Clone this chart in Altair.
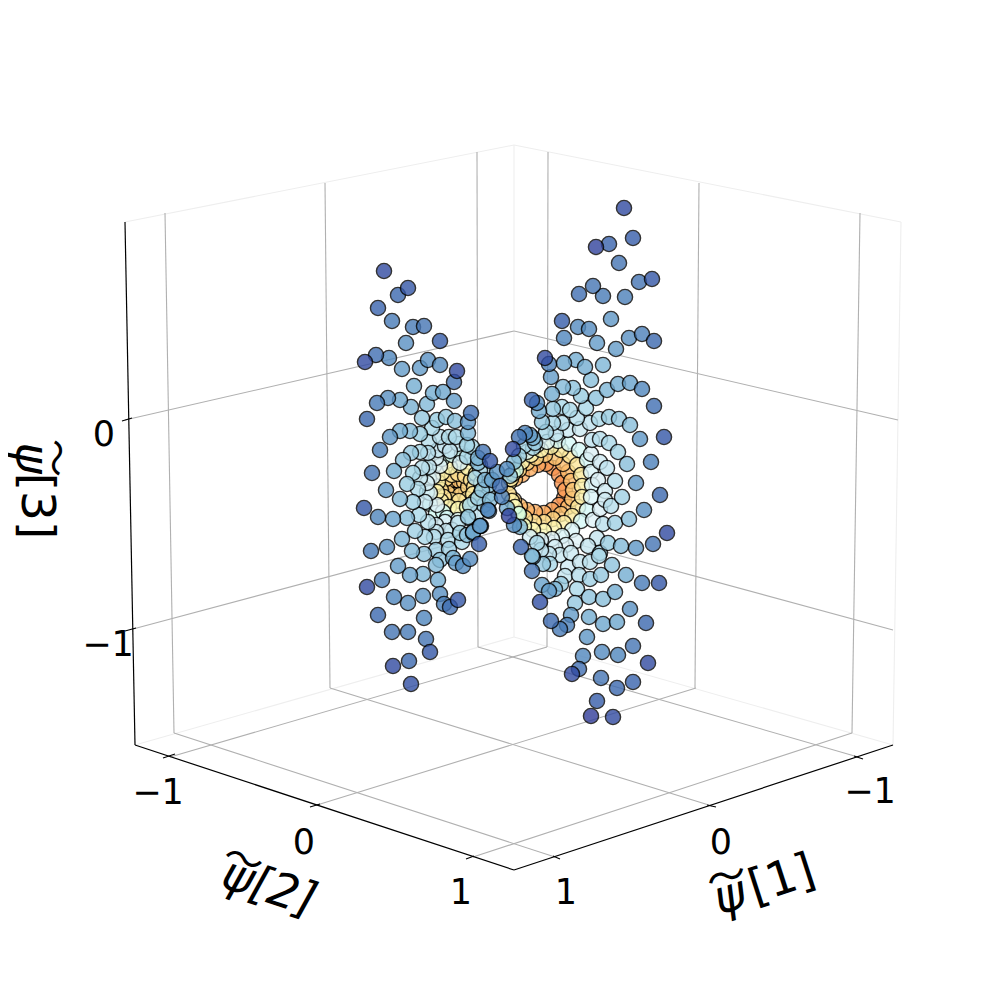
import altair as alt
import pandas as pd

# Screen-plane coordinates of the projected points and their colour value
# rows: x, y, c   (c: 0 dark blue ... 8 orange-red)
left_upper = [
[384,271,.3],[408,288,.5],[398,295,.8],[378,308,.7],[392,321,1.1],[413,327,1.1],[424,326,1],[406,343,1.5],
[440,341,.6],[365,362,.3],[376,355,.9],[389,358,1.3],[428,360,1.5],[420,368,1.7],[402,369,1.7],[440,365,1.4],
[457,371,.3],[454,382,1],[414,386,2],[433,393,2],[443,392,1.9],[454,401,1.7],[388,398,1.5],[377,403,1.1],
[400,400,1.9],[411,407,2.1],[427,404,2.3],[422,418,2.6],[367,419,.8],[437,420,2.7],[446,417,2.6],[455,421,2.4],
[471,413,.9],[468,422,1.6],[400,431,2],[390,437,1.6],[410,431,2.3],[420,434,2.7],[432,428,3],[449,437,3.1],
[468,433,2.2],[456,437,3],[380,450,1.2],[429,442,3.2],[440,437,3.2],[467,445,2.9],[403,460,2.4],[411,453,2.6],
[420,452,3],[428,453,3.2],[372,473,1],[394,471,2],[467,457,3],[450,451,3.4],[438,450,3.5],[483,452,1],
[490,461,.5],[478,458,2.2],[478,463,2.4],[460,463,3.8],
]
left_lower = [
[386,490,1.7],[413,473,2.9],[407,484,2.7],[422,468,3.2],[429,467,3.4],[400,499,2.3],[418,489,3.1],[413,502,2.8],
[364,508,.5],[378,517,1.3],[393,519,1.8],[407,518,2.4],[419,515,3],[428,522,3.3],[425,502,3.6],[430,493,3.8],
[427,483,3.8],[433,477,4],[415,531,2.8],[425,537,3],[434,537,3.2],[402,539,2.2],[387,547,1.5],[371,551,1.1],
[412,551,2.3],[424,554,2.5],[436,550,2.8],[448,540,3.2],[446,531,3.5],[449,549,2.8],[398,566,1.7],[410,575,1.8],
[423,574,2.2],[436,565,2.3],[453,558,2.2],[456,563,1.7],[463,566,1.4],[470,559,1.4],[479,544,.6],[481,526,1.7],
[473,533,2],[467,535,2.5],[460,533,2.9],[458,523,3.4],[438,580,2],[382,580,1.2],[367,587,.3],[394,597,1.3],
[408,603,1.5],[423,596,1.6],[440,594,1.5],[444,604,1.2],[450,607,.9],[458,600,.5],[378,615,.8],[424,618,1.3],
[392,632,1],[408,632,1.1],[426,639,1],[430,652,.5],[409,661,.8],[393,666,.3],[411,684,.4],
[440,466,4],[437,505,4],[436,525,3.8],[445,522,3.9],[452,530,3.7],[443,512,4.3],[489,511,1.6],[480,526,1.9],
[436,458,3.9],[445,446,3.5],[458,444,3.5],[472,447,3],[420,478,3.6],[436,532,3.5],[462,542,3],[440,560,2.6],
]
left_core_a = [
[458,488,7.4],[452,487,7.2],[455,484,7.2],[461,485,7],[464,488,6.8],[461,491,6.9],[455,491,7],[449,488,7],[447,484,6.6],
[453,481,6.8],[459,481,6.6],[464,482,6.4],[468,487,6.2],[466,492,6.3],[460,495,6.3],[454,495,6.4],[448,493,6.4],
[446,479,6],[452,475,6],[458,474,6],[465,476,6],[471,480,5.9],[474,487,5.8],[473,494,5.7],[467,499,5.8],[459,501,5.8],[451,500,5.9],[444,497,5.9],[441,490,6],
]
left_core_b = [
[438,482,5.4],[442,473,5.4],[450,467,5.3],[459,465,5.4],[468,468,5.3],[476,474,5.2],[481,483,4.9],[481,493,4.7],
[475,501,4.7],[467,507,4.9],[458,509,5.2],[449,507,5.3],[441,501,5.4],[437,492,5.4],
[429,478,4.5],[434,466,4.5],[442,459,4.4],[452,455,4.3],[462,454,4.3],[472,458,4],[480,465,3.6],[486,474,3.3],
[489,485,2.8],[488,495,3],[484,505,3],[477,513,3.4],[468,518,3.8],[458,520,4.1],[447,518,4.2],[436,513,4.3],[430,504,4.4],[427,492,4.3],
]
right_upper = [
[624,208,.3],[633,238,.6],[596,247,.2],[609,244,.7],[619,263,1],[639,282,1],[652,279,.5],[593,286,1],
[579,294,.9],[603,296,1.1],[625,297,1.2],[611,319,1.6],[562,321,.6],[578,327,1.4],[589,329,1.4],[564,338,1.3],
[597,343,1.7],[642,334,1.2],[629,338,1.5],[654,341,.8],[616,349,1.7],[545,358,.3],[549,364,1.2],[564,363,1.9],
[576,360,2],[585,367,2],[603,365,2.2],[551,377,1.7],[591,380,2.4],[563,387,2.3],[573,388,2.5],[618,384,2],
[630,383,1.8],[642,389,1.3],[607,390,2.2],[552,394,2],[581,396,2.7],[596,398,2.5],[532,400,.7],[537,403,1.4],
[539,411,2],[654,406,.9],[553,409,2.6],[562,407,3],[570,410,3],[586,408,3],[577,418,3.2],[542,422,2.6],
[553,423,3],[562,423,3.2],[590,423,3.4],[599,419,3],[609,417,2.7],[619,419,2.6],[630,425,2.4],[640,439,1.6],
[664,437,.5],[546,432,3],[556,434,3.4],[568,430,3.6],[580,429,3.6],
]
right_mid = [
[618,452,2.9],[609,443,3],[600,439,3.2],[592,440,3.4],[627,464,2.4],[651,462,1.2],[636,483,1.6],[615,481,3.2],
[607,468,3.4],[600,462,3.7],[591,454,3.9],[605,491,3.7],[598,480,3.9],[660,495,.8],[622,497,2.8],[611,506,3.2],
[600,509,3.9],[605,500,3.7],[644,510,1.5],[629,519,2.4],[615,523,2.8],[603,524,3.3],[667,533,.3],[593,520,4],
[653,544,1],[636,548,1.6],[621,546,2.3],[608,543,2.7],[597,538,3.5],[588,546,3.5],[600,553,3],
[519,437,1],[525,433,1.3],[530,435,1.7],[533,438,2.2],[535,443,2.7],[533,448,3],[513,449,.3],[507,469,1.4],
[500,486,.9],[502,497,1.2],[509,516,.2],[514,525,1.4],[507,508,2],[520,527,2.2],[521,547,.7],[532,556,2.3],[537,543,3],
[524,446,3],[519,456,2.8],[514,462,2.4],[510,476,2.6],[555,547,3.8],[566,545,3.9],[576,541,4],[560,555,3.6],[549,554,3.4],[571,553,3.6],[541,550,3.4],
]
right_lower = [
[599,556,3],[612,565,2.5],[626,575,2],[642,583,1.1],[659,583,.5],[601,575,2.6],[590,579,2.8],[579,575,3.2],
[590,562,3.3],[580,562,3.5],[568,567,3.7],[565,576,3.5],[577,589,3],[615,592,2],[589,597,2.5],[603,599,2.4],
[575,603,2.6],[630,609,1.5],[561,584,2.7],[555,589,2.2],[549,591,1.7],[542,585,1.8],[532,571,1],[550,564,3],
[543,564,2.6],[533,557,2.4],[540,602,.4],[571,615,1.7],[589,617,2],[567,625,1.2],[560,629,1.1],[551,621,.8],
[603,624,1.9],[617,622,1.9],[646,623,.8],[587,637,1.6],[633,646,1],[602,652,1.4],[618,655,1.3],[583,656,1.3],
[648,663,.3],[579,669,.9],[572,674,.3],[601,678,1],[633,682,.7],[617,688,.8],[597,701,.6],[591,716,.1],[613,717,.3],
]
right_core = [
[509,483,6],[511,479,5.5],[513,474,5],[516,470,4.5],[509,494,6],[512,501,5.5],[515,507,5],[519,514,4.5],
[515,479,6.8],[522,475,7],[530,469,7],[538,465,7.2],[546,464,7.3],[553,468,7.4],[559,475,7.4],[562,483,7.4],[565,490,7.3],
[564,498,7.4],[559,505,7.4],[552,510,7.2],[544,513,7],[535,512,7],[527,510,6.9],[520,506,6.8],[514,500,6.4],
[519,470,6],[527,463,6.2],[536,458,6.2],[545,455,6.4],[555,458,6.6],[563,464,6.7],[568,472,6.8],[571,481,6.7],[573,490,6.5],
[572,499,6.6],[568,507,6.7],[561,514,6.6],[553,519,6.3],[544,522,6],[534,522,6],[525,518,5.9],[518,513,5.6],
[522,462,5.3],[531,455,5.3],[541,450,5.3],[551,447,5.5],[561,450,5.7],[570,456,5.8],[577,465,5.8],[581,475,5.7],[582,486,5.5],
[582,497,5.5],[578,507,5.7],[572,516,5.7],[564,523,5.5],[554,528,5.3],[544,531,5.1],[533,530,5.1],[524,526,4.9],
[527,452,4.1],[537,445,4.1],[547,442,4.1],[558,441,4.2],[569,444,4.2],[579,450,4.2],[587,460,4.2],[591,472,4.1],[592,485,4.1],
[591,497,4.1],[587,510,4.2],[581,521,4.2],[572,530,4.1],[562,536,4.1],[552,539,4],[541,540,3.9],[530,537,3.8],
]
centre = [
[492,480,1.8],[485,480,2.3],[490,500,2.4],[488,510,1.3],[480,526,1.7],[473,532,1.9],[468,517,2.6],[470,505,3],[475,478,3],[480,470,3.2],
[482,490,2.6],[478,498,2.8],[497,472,1.6],
]

# axis geometry of the projected box: x, y, x2, y2
pane_edges = [[125,222,514,145],[514,145,901,222],[901,222,893,745],[514,145,514,637],[135,745,514,637],[514,637,893,745]]
grid_lines = [
[125,420,514,331],[514,331,898,420],[133,629,514,527],[514,527,893,630],
[165,213,174,733],[325,183,330,688],[477,152,478,647],[860,213,852,733],[699,183,695,688],[548,152,547,647],
[170,757,547,647],[317,805,696,688],[473,857,852,733],[858,757,478,647],[712,806,330,688],[555,857,174,733],
]
axis_lines = [[125,222,135,745],[135,745,514,870],[514,870,893,745]]
tick_marks = [[122,421,132,418],[125,631,136,628],[163,758,175,754],[310,807,320,804],[466,859,474,856],
              [553,856,560,859],[707,805,716,807],[854,756,863,759]]
tick_labels = [["\u22121",158,793],["0",304,843],["1",461,893],["1",566,893],["0",721,843],["\u22121",870,792],["0",104,435],["\u22121",108,645]]
# text, x, y, angle, font style, font, size
label_parts = [
 ["\u03c8",238,878,18,"italic","DejaVu Sans",47],["[2]",283,893,18,"italic","DejaVu Sans",47],["\u301c",243,862,18,"normal","Noto Sans CJK JP",40],
 ["\u03c8",730,897,342,"italic","DejaVu Sans",47],["[1]",782,880,342,"normal","DejaVu Sans",47],["\u301c",727,879,342,"normal","Noto Sans CJK JP",40],
 ["\u03c8",31,458,90,"italic","DejaVu Sans",47],["[3]",36,506,90,"normal","DejaVu Sans",47],["\u301c",54,458,90,"normal","Noto Sans CJK JP",38],
]

colormap = ["#313695","#4575b4","#74add1","#abd9e9","#e0f3f8","#ffffbf","#fee090","#fdae61","#f46d43"]

xs = alt.Scale(domain=[8,992])
ys = alt.Scale(domain=[992,8])

def seg(rows, color, w):
    df = pd.DataFrame(rows, columns=["x","y","x2","y2"])
    return alt.Chart(df).mark_rule(color=color, strokeWidth=w).encode(
        x=alt.X("x:Q", scale=xs, axis=None), y=alt.Y("y:Q", scale=ys, axis=None), x2="x2:Q", y2="y2:Q")

rows = left_core_a+left_core_b+left_upper+left_lower+right_upper+right_mid+right_lower+right_core+centre
pts = pd.DataFrame(rows, columns=["x","y","c"]).sort_values("c", ascending=False, kind="stable")
points = alt.Chart(pts).mark_point(filled=True, shape="circle", size=230, opacity=0.8, stroke="black", strokeWidth=1.4).encode(
    x=alt.X("x:Q", scale=xs, axis=None), y=alt.Y("y:Q", scale=ys, axis=None),
    fill=alt.Fill("c:Q", scale=alt.Scale(domain=list(range(9)), range=colormap), legend=None))

tl = pd.DataFrame(tick_labels, columns=["t","x","y"])
tick_text = alt.Chart(tl).mark_text(font="DejaVu Sans", fontSize=35, color="black", baseline="middle", align="center").encode(
    x=alt.X("x:Q", scale=xs, axis=None), y=alt.Y("y:Q", scale=ys, axis=None), text="t:N")

label_layers = []
for t, x, y, a, st, fn, fs in label_parts:
    d = pd.DataFrame({"t":[t],"x":[x],"y":[y]})
    label_layers.append(alt.Chart(d).mark_text(font=fn, fontSize=fs, fontStyle=st, color="black", baseline="middle", align="center", angle=a).encode(
        x=alt.X("x:Q", scale=xs, axis=None), y=alt.Y("y:Q", scale=ys, axis=None), text="t:N"))

chart = alt.layer(seg(pane_edges,"#eeeeee",1.1), seg(grid_lines,"#b0b0b0",1.1), seg(axis_lines,"black",1.2), seg(tick_marks,"black",1.1),
                  points, tick_text, *label_layers).properties(
    width=984, height=984, padding=0, autosize=alt.AutoSizeParams(type="none")
).configure_view(stroke=None)
chart.save("out.html", embed_options={"renderer": "svg", "actions": False})
